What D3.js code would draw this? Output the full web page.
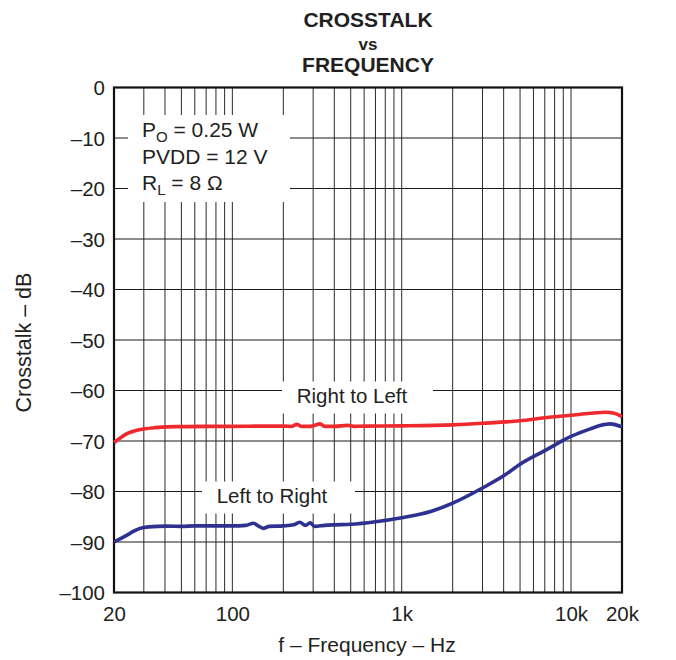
<!DOCTYPE html>
<html>
<head>
<meta charset="utf-8">
<script src="https://cdn.jsdelivr.net/npm/d3@7"></script>
<style>
  html, body { margin: 0; padding: 0; background: #fff; }
  svg { display: block; }
  text { font-family: "Liberation Sans", Arial, Helvetica, sans-serif; fill: #231f20; }
</style>
</head>
<body>
<svg id="chart" width="676" height="660"></svg>
<script>
// ---------- data ----------
const titleLines = ["CROSSTALK", "vs", "FREQUENCY"];
const xTickValues = [20, 100, 1000, 10000, 20000];
const xTickLabels = ["20", "100", "1k", "10k", "20k"];
const yTickValues = [0, -10, -20, -30, -40, -50, -60, -70, -80, -90, -100];
const gridFreqs = [30, 40, 50, 60, 70, 80, 90, 100, 200, 300, 400, 500, 600, 700, 800, 900,
  1000, 2000, 3000, 4000, 5000, 6000, 7000, 8000, 9000, 10000];
const gridDb = [-10, -20, -30, -40, -50, -60, -70, -80, -90];

// Right to Left (red)
const rtlFreq = [20, 22, 24, 27, 30, 35, 41, 50, 70, 100, 150, 200, 225, 240, 255, 290, 330, 350, 400, 480, 520, 600,
  1000, 2000, 3000, 5000, 7000, 10000, 13000, 16000, 18000, 20000];
const rtlDb = [-70.3, -69.3, -68.5, -67.9, -67.6, -67.35, -67.2, -67.15, -67.1, -67.1, -67.05, -67.05, -67.1, -66.7, -67.1, -67.1, -66.6, -67.1, -67.1, -66.9, -67.1, -67.05,
  -67.0, -66.8, -66.5, -66.0, -65.4, -64.9, -64.5, -64.3, -64.5, -65.2];

// Left to Right (blue)
const ltrFreq = [20, 22, 24, 26, 28.5, 32, 41, 50, 60, 80, 100, 120, 133, 142, 152, 165, 200, 230, 250, 270, 288, 306, 350, 400, 500,
  700, 1000, 1500, 2000, 3000, 4000, 5000, 7000, 10000, 13000, 15000, 17000, 20000];
const ltrDb = [-90.0, -89.3, -88.6, -87.9, -87.3, -87.0, -86.85, -86.9, -86.8, -86.8, -86.8, -86.7, -86.3, -86.8, -87.3, -86.9, -86.8, -86.6, -86.1, -86.7, -86.2, -86.9, -86.7, -86.6, -86.5,
  -86.0, -85.2, -83.9, -82.3, -79.3, -76.9, -74.6, -71.9, -69.1, -67.6, -66.9, -66.6, -67.2];

const annotLines = [["P", "O", " = 0.25 W"], ["PVDD = 12 V", "", ""], ["R", "L", " = 8 Ω"]];
const seriesLabels = ["Right to Left", "Left to Right"];
const xLabel = "f – Frequency – Hz";
const yLabel = "Crosstalk – dB";

// ---------- layout ----------
const svg = d3.select("#chart");
const L = 114, R = 622, T = 87.5, B = 592.5;
const x = d3.scaleLog().domain([20, 20000]).range([L, R]);
const y = d3.scaleLinear().domain([-100, 0]).range([B, T]);

// grid
svg.append("g").selectAll("line").data(gridFreqs).join("line")
  .attr("x1", d => x(d)).attr("x2", d => x(d)).attr("y1", T).attr("y2", B)
  .attr("stroke", "#2a2a2a").attr("stroke-width", 1);
svg.append("g").selectAll("line").data(gridDb).join("line")
  .attr("x1", L).attr("x2", R).attr("y1", d => y(d)).attr("y2", d => y(d))
  .attr("stroke", "#1a1a1a").attr("stroke-width", 1);

// white boxes behind annotations
const boxes = [
  {x0: 128, x1: 290, y0: 115, y1: 202},
  {x0: 282, x1: 433, y0: 381.5, y1: 413.5},
  {x0: 202, x1: 355, y0: 481.5, y1: 513.5}
];
svg.append("g").selectAll("rect").data(boxes).join("rect")
  .attr("x", d => d.x0).attr("y", d => d.y0)
  .attr("width", d => d.x1 - d.x0).attr("height", d => d.y1 - d.y0)
  .attr("fill", "#fff");

// frame
svg.append("rect").attr("x", L).attr("y", T).attr("width", R - L).attr("height", B - T)
  .attr("fill", "none").attr("stroke", "#111").attr("stroke-width", 2.2);

// curves
const line = d3.line().x(d => x(d[0])).y(d => y(d[1])).curve(d3.curveMonotoneX);
svg.append("path").datum(d3.zip(rtlFreq, rtlDb)).attr("d", line)
  .attr("fill", "none").attr("stroke", "#ee2a2e").attr("stroke-width", 3.6)
  .attr("stroke-linejoin", "round").attr("stroke-linecap", "butt");
svg.append("path").datum(d3.zip(ltrFreq, ltrDb)).attr("d", line)
  .attr("fill", "none").attr("stroke", "#2e3190").attr("stroke-width", 3.6)
  .attr("stroke-linejoin", "round").attr("stroke-linecap", "butt");

// x ticks
const xAxis = d3.axisBottom(x).tickValues(xTickValues)
  .tickFormat((d, i) => xTickLabels[i]).tickSize(0).tickPadding(0);
const gx = svg.append("g").attr("transform", `translate(0,${B})`).call(xAxis);
gx.select(".domain").remove();
gx.selectAll("text").attr("dy", null).attr("y", 28.5)
  .style("font-size", "20.5px").style("font-family", "Liberation Sans, Arial, sans-serif").attr("fill", "#231f20");

// y ticks
const yAxis = d3.axisLeft(y).tickValues(yTickValues)
  .tickFormat(d => d === 0 ? "0" : "–" + Math.abs(d)).tickSize(0).tickPadding(0);
const gy = svg.append("g").attr("transform", `translate(${L - 9},0)`).call(yAxis);
gy.select(".domain").remove();
gy.selectAll("text").attr("dy", "0.36em").attr("x", 0)
  .style("font-size", "20.5px").style("font-family", "Liberation Sans, Arial, sans-serif").attr("fill", "#231f20");

// title
const titleY = [26.5, 49.5, 71.5];
const titleSize = [21, 17, 21];
svg.append("g").selectAll("text").data(titleLines).join("text")
  .attr("x", 368).attr("y", (d, i) => titleY[i]).attr("text-anchor", "middle")
  .style("font-weight", "bold").style("font-size", (d, i) => titleSize[i] + "px")
  .text(d => d);

// axis labels
svg.append("text").attr("x", 367).attr("y", 652).attr("text-anchor", "middle")
  .style("font-size", "21px").text(xLabel);
svg.append("text").attr("transform", "translate(31,342.5) rotate(-90)").attr("text-anchor", "middle")
  .style("font-size", "21.5px").text(yLabel);

// annotation
const annotY = [137, 163.5, 190];
const ag = svg.append("g");
annotLines.forEach((parts, i) => {
  const t = ag.append("text").attr("x", 142).attr("y", annotY[i]).style("font-size", "21px");
  t.append("tspan").text(parts[0]);
  if (parts[1]) {
    t.append("tspan").attr("dy", 5).style("font-size", "15px").text(parts[1]);
    t.append("tspan").attr("dy", -5).text(parts[2]);
  }
});

// series labels
svg.append("text").attr("x", 352).attr("y", 402.5).attr("text-anchor", "middle")
  .style("font-size", "20.5px").text(seriesLabels[0]);
svg.append("text").attr("x", 272).attr("y", 502.5).attr("text-anchor", "middle")
  .style("font-size", "20.5px").text(seriesLabels[1]);
</script>
</body>
</html>
